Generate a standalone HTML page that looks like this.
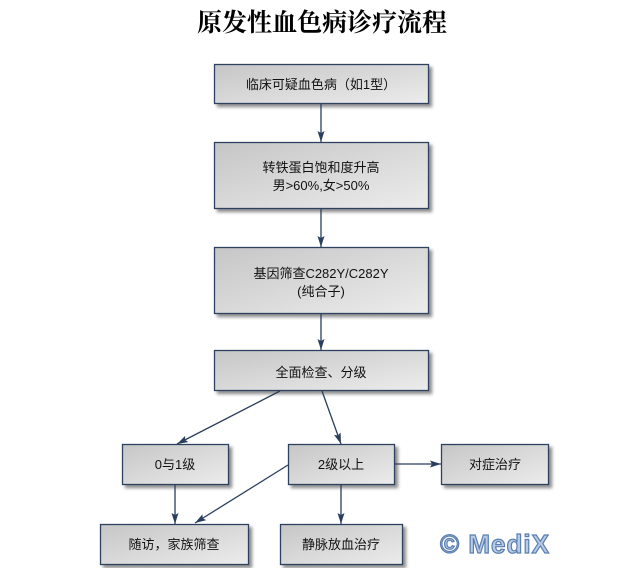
<!DOCTYPE html>
<html><head><meta charset="utf-8">
<style>
html,body{margin:0;padding:0;background:#fff;}
body{width:642px;height:568px;overflow:hidden;}
svg text{font-family:"Liberation Sans","Noto Sans CJK SC",sans-serif;font-size:13px;fill:#111;}
</style></head><body>
<svg width="642" height="568" viewBox="0 0 642 568" xmlns="http://www.w3.org/2000/svg">
<defs>
<linearGradient id="g" x1="0" y1="0" x2="1" y2="1">
<stop offset="0" stop-color="#c6c6c6"/>
<stop offset="1" stop-color="#ececec"/>
</linearGradient>
<filter id="sh" x="-10%" y="-20%" width="130%" height="160%">
<feGaussianBlur in="SourceAlpha" stdDeviation="1.5"/>
<feOffset dx="3" dy="3" result="b"/>
<feComponentTransfer><feFuncA type="linear" slope="0.45"/></feComponentTransfer>
<feMerge><feMergeNode/><feMergeNode in="SourceGraphic"/></feMerge>
</filter>
<marker id="ar" markerWidth="11" markerHeight="7" refX="11" refY="3.5" orient="auto" markerUnits="userSpaceOnUse">
<path d="M0,0 L11,3.5 L0,7 L2,3.5 Z" fill="#2b3f5c"/>
</marker>
</defs>
<text x="322" y="31" text-anchor="middle" style="font-family:'Liberation Serif','Noto Serif CJK SC',serif;font-size:25px;font-weight:bold;fill:#000;">原发性血色病诊疗流程</text>

<g stroke="#2e4360" stroke-width="1.3" fill="url(#g)" filter="url(#sh)">
<rect x="214.5" y="64.5" width="214" height="39"/>
<rect x="214.5" y="142.5" width="214" height="66"/>
<rect x="214.5" y="247.5" width="214" height="66"/>
<rect x="214.5" y="350.5" width="214" height="40"/>
<rect x="122.5" y="444.5" width="106" height="40"/>
<rect x="288.5" y="444.5" width="106" height="40"/>
<rect x="441.5" y="444.5" width="107" height="40"/>
<rect x="100.5" y="524.5" width="148" height="40"/>
<rect x="280.5" y="524.5" width="122" height="40"/>
</g>

<g stroke="#2b3f5c" stroke-width="1.3" fill="none" marker-end="url(#ar)">
<line x1="321" y1="104" x2="321" y2="142"/>
<line x1="321" y1="209" x2="321" y2="247"/>
<line x1="321" y1="314" x2="321" y2="350"/>
<line x1="280" y1="391" x2="177" y2="444"/>
<line x1="322" y1="391" x2="341" y2="444"/>
<line x1="175" y1="485" x2="175" y2="524"/>
<line x1="288" y1="465" x2="195" y2="523"/>
<line x1="341" y1="485" x2="341" y2="524"/>
<line x1="395" y1="464" x2="441" y2="464"/>
</g>

<text x="321" y="89" text-anchor="middle">临床可疑血色病（如1型）</text>
<text x="321" y="172" text-anchor="middle">转铁蛋白饱和度升高</text>
<text x="321" y="190" text-anchor="middle">男&gt;60%,女&gt;50%</text>
<text x="321" y="278" text-anchor="middle">基因筛查C282Y/C282Y</text>
<text x="321" y="296" text-anchor="middle">(纯合子)</text>
<text x="321" y="377" text-anchor="middle">全面检查、分级</text>
<text x="175" y="469" text-anchor="middle">0与1级</text>
<text x="341" y="469" text-anchor="middle">2级以上</text>
<text x="495" y="469" text-anchor="middle">对症治疗</text>
<text x="174" y="549" text-anchor="middle">随访，家族筛查</text>
<text x="341" y="549" text-anchor="middle">静脉放血治疗</text>

<text x="495" y="553" text-anchor="middle" style="font-family:'Liberation Sans','DejaVu Sans',sans-serif;font-size:26px;font-weight:bold;letter-spacing:1px;fill:#b8cbe6;stroke:#5a7fb0;stroke-width:1.2;">© MediX</text>
</svg>
</body></html>
